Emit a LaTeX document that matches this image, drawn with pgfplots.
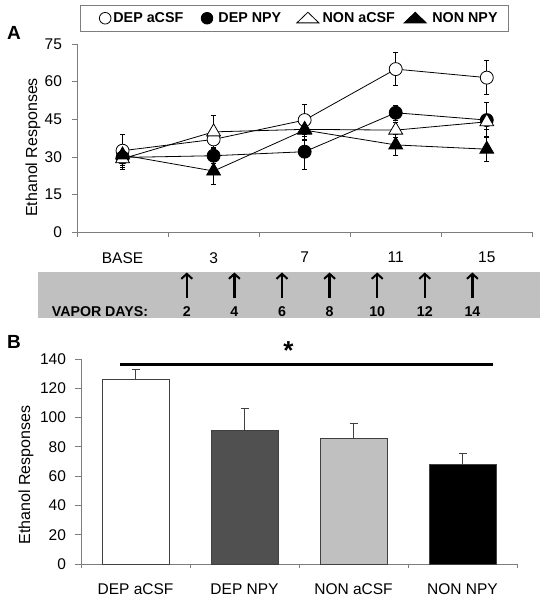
\documentclass[border=0pt]{standalone}
\usepackage{fontspec}
\setmainfont{Liberation Sans}
\usepackage{pgfplots}
\pgfplotsset{compat=1.18}
\usetikzlibrary{arrows.meta}
\definecolor{bandgray}{RGB}{192,192,192}
\definecolor{dkgray}{RGB}{80,80,80}
\definecolor{ltgray}{RGB}{192,192,192}
\definecolor{axgray}{RGB}{125,125,125}
\pgfplotsset{
  common/.style={
    scale only axis, clip=false, anchor=south west,
    axis x line*=bottom, axis y line*=left,
    axis line style={axgray, line width=0.8pt, -},
    tick align=outside,
    major tick length=5.5pt, minor tick length=4.3pt,
    every major x tick/.style={draw=none},
    every minor x tick/.style={axgray, line width=0.8pt},
    every major y tick/.style={axgray, line width=0.8pt},
    /pgf/number format/assume math mode=true,
    tick label style={font=\fontsize{15.5}{15.5}\selectfont},
    xticklabel style={yshift=-11pt},
    yticklabel style={xshift=-6pt},
    label style={font=\fontsize{16}{16}\selectfont},
  }
}
\begin{document}
\begin{tikzpicture}
\useasboundingbox (0pt,0pt) rectangle (547pt,601pt);
% vapor band
\fill[bandgray] (37.7pt,282.5pt) rectangle (540pt,329.3pt);
\node[font=\bfseries\fontsize{14.2}{14.2}\selectfont] at (100pt,289.3pt) {VAPOR DAYS:};
\foreach \xx/\dd in {186.8/2,234.4/4,282/6,329.6/8,377.2/10,424.8/12,472.4/14}{
  \draw[line width=2.3pt, -{Straight Barb[length=5pt,width=11pt,line width=2pt]}] (\xx pt,303pt) -- (\xx pt,328.5pt);
  \node[font=\bfseries\fontsize{14.2}{14.2}\selectfont] at (\xx pt,289.3pt) {\dd};
}
\node[font=\bfseries\fontsize{19}{19}\selectfont] at (14pt,568.5pt) {A};
\node[font=\bfseries\fontsize{19}{19}\selectfont] at (14pt,259.3pt) {B};

\begin{axis}[common,
  at={(77pt,368.7pt)}, width=455.3pt, height=188.3pt,
  xmin=-0.5, xmax=4.5, ymin=0, ymax=75,
  ytick={0,15,...,75},
  xtick={0,1,2,3,4}, xticklabels={BASE,3,7,11,15},
  minor xtick={-0.5,0.5,1.5,2.5,3.5,4.5},
  ylabel={Ethanol Responses},
  ylabel style={at={(axis description cs:-0.0966,0.451)}, anchor=center},
  legend columns=4,
  legend cell align=left,
  legend style={at={(axis description cs:0.00571,1.2071)}, anchor=north west,
    draw=axgray, line width=0.8pt, inner sep=0pt, column sep=0pt,
    font=\bfseries\fontsize{14.3}{14.3}\selectfont},
]
\addlegendimage{legend image code/.code={\path[draw=none,fill=none] (-25.2pt,-12.85pt) rectangle (3pt,12.85pt);
  \draw[black, fill=white, line width=0.8pt] (0pt,0pt) circle (5.8pt);}}
\addlegendimage{legend image code/.code={\path[draw=none,fill=none] (-21.7pt,-12.85pt) rectangle (9.4pt,12.85pt);
  \draw[black, fill=black, line width=0.8pt] (0pt,0pt) circle (5.8pt);}}
\addlegendimage{legend image code/.code={\path[draw=none,fill=none] (-24.7pt,-12.85pt) rectangle (12.7pt,12.85pt);
  \draw[black, fill=white, line width=0.8pt] (-11pt,-4.6pt) -- (11pt,-4.6pt) -- (0pt,6pt) -- cycle;}}
\addlegendimage{legend image code/.code={\path[draw=none,fill=none] (-18.3pt,-12.85pt) rectangle (15.2pt,12.85pt);
  \draw[black, fill=black, line width=0.8pt] (-11pt,-4.6pt) -- (11pt,-4.6pt) -- (0pt,6pt) -- cycle;}}
% DEP aCSF
\addplot[black, line width=0.8pt, mark=*, mark size=6.5pt, mark options={fill=white, solid},
  error bars/.cd, y dir=both, y explicit,
  error bar style={black, line width=0.8pt},
  error mark options={rotate=90, mark size=2.5pt, black, line width=0.8pt}]
  coordinates {(0,32.5) +- (0,6.5) (1,37) +- (0,3) (2,44.7) +- (0,6.4) (3,65) +- (0,6.6) (4,61.6) +- (0,6.7)};
% DEP NPY
\addplot[black, line width=0.8pt, mark=*, mark size=6.5pt, mark options={fill=black, solid},
  error bars/.cd, y dir=both, y explicit,
  error bar style={black, line width=0.8pt},
  error mark options={rotate=90, mark size=2.5pt, black, line width=0.8pt}]
  coordinates {(0,29.8) +- (0,3) (1,30.5) +- (0,3) (2,32.1) +- (0,7) (3,47.6) +- (0,3) (4,44.7) +- (0,7)};
% NON aCSF
\addplot[black, line width=0.8pt, mark=triangle*, mark size=8pt, mark options={fill=white, solid},
  error bars/.cd, y dir=both, y explicit,
  error bar style={black, line width=0.8pt},
  error mark options={rotate=90, mark size=2.5pt, black, line width=0.8pt}]
  coordinates {(0,29.3) +- (0,4.3) (1,40) +- (0,6.7) (2,41) +- (0,4) (3,40.7) +- (0,3) (4,44) +- (0,3)};
% NON NPY
\addplot[black, line width=0.8pt, mark=triangle*, mark size=8pt, mark options={fill=black, solid},
  error bars/.cd, y dir=both, y explicit,
  error bar style={black, line width=0.8pt},
  error mark options={rotate=90, mark size=2.5pt, black, line width=0.8pt}]
  coordinates {(0,30.8) +- (0,4) (1,24.4) +- (0,5.3) (2,40.7) +- (0,4) (3,34.8) +- (0,4) (4,33.1) +- (0,5)};
\legend{DEP aCSF, DEP NPY, NON aCSF, NON NPY\hspace*{8.4pt}}
\end{axis}

\begin{axis}[common,
  at={(81pt,37pt)}, width=436pt, height=205pt,
  xmin=-0.5, xmax=3.5, ymin=0, ymax=140,
  ytick={0,20,...,140},
  xtick={0,1,2,3}, xticklabels={DEP aCSF, DEP NPY, NON aCSF, NON NPY},
  minor xtick={-0.5,0.5,1.5,2.5,3.5},
  ylabel={Ethanol Responses},
  ylabel style={at={(axis description cs:-0.126,0.434)}, anchor=center},
]
\addplot[ybar, bar width=67pt, bar shift=0pt, fill=white, draw=black!75, line width=0.8pt,
  error bars/.cd, y dir=plus, y explicit,
  error bar style={black!75, line width=0.8pt},
  error mark options={rotate=90, mark size=4pt, black!75, line width=0.8pt}]
  coordinates {(0,126.3) +- (0,6.7)};
\addplot[ybar, bar width=67pt, bar shift=0pt, fill=dkgray, draw=black!75, line width=0.8pt,
  error bars/.cd, y dir=plus, y explicit,
  error bar style={black!75, line width=0.8pt},
  error mark options={rotate=90, mark size=4pt, black!75, line width=0.8pt}]
  coordinates {(1,91.5) +- (0,15)};
\addplot[ybar, bar width=67pt, bar shift=0pt, fill=ltgray, draw=black!75, line width=0.8pt,
  error bars/.cd, y dir=plus, y explicit,
  error bar style={black!75, line width=0.8pt},
  error mark options={rotate=90, mark size=4pt, black!75, line width=0.8pt}]
  coordinates {(2,85.6) +- (0,10.7)};
\addplot[ybar, bar width=67pt, bar shift=0pt, fill=black, draw=black!75, line width=0.8pt,
  error bars/.cd, y dir=plus, y explicit,
  error bar style={black!75, line width=0.8pt},
  error mark options={rotate=90, mark size=4pt, black!75, line width=0.8pt}]
  coordinates {(3,68.3) +- (0,7.5)};
\draw[line width=3pt] (axis cs:-0.142,136.4) -- (axis cs:3.277,136.4);
\node[anchor=base, font=\bfseries\fontsize{26}{26}\selectfont] at (axis cs:1.404,139.7) {*};
\end{axis}
\end{tikzpicture}
\end{document}
